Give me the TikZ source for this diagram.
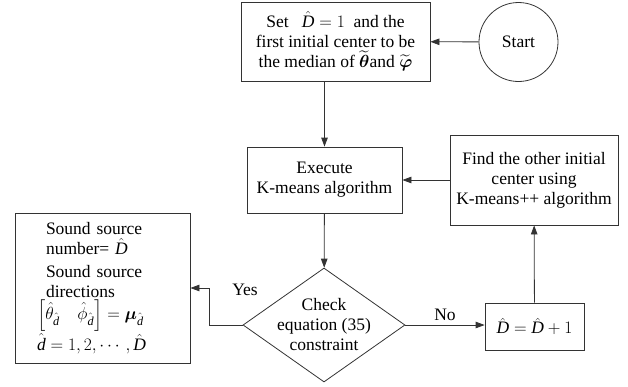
\documentclass[tikz,border=0pt]{standalone}
\usepackage{fix-cm}
\usepackage{amsmath,amssymb}
\usepackage{fontspec}
\setmainfont{Liberation Serif}
\usetikzlibrary{arrows.meta,shapes.geometric}

\tikzset{
 box/.style={draw=black!80, line width=0.8pt, rectangle, inner sep=0pt, align=center},
 arr/.style={draw=black!80, line width=0.8pt, -{Triangle[length=9pt,width=6.5pt]}},
}
\newcommand{\hD}{\hat{\mathit{D}}}
\newcommand{\hd}{\hat{\mathit{d}}}

\begin{document}
\begin{tikzpicture}[x=1pt, y=-1pt, font=\fontsize{17.5}{20}\selectfont]
 \useasboundingbox (0,0) rectangle (628,386); % 628x386

 \node [box, minimum width=189, minimum height=79] (set) at (335.5,41.5)
   {Set \ \ $\hD=1$ \ and the\\ first initial center to be\\
    the median of $\widetilde{\boldsymbol{\theta}}$and $\widetilde{\boldsymbol{\varphi}}$}; % 初期化
 \node [draw=black!80, line width=0.8pt, circle, minimum size=79, inner sep=0pt] (start) at (518.5,42) {Start};

 \node [box, minimum width=155, minimum height=66] (exec) at (324.5,180) {Execute\\ K-means algorithm};
 \node [box, minimum width=168, minimum height=90] (find) at (534,180)
   {Find the other initial\\ center using\\ K-means++ algorithm};

 \node [draw=black!80, line width=0.8pt, diamond, minimum width=162, minimum height=114, inner sep=0pt] (chk) at (324,325) {};
 \node [align=center] (chktext) at (chk) {Check\\ equation (35)\\ constraint}; % 判定
 \node [box, minimum width=99, minimum height=47] (inc) at (534.5,326.5) {$\hD=\hD+1$};

 \node [box, align=left, text width=131, inner xsep=22, minimum height=150] (out) at (102.5,288)
   {\hspace*{9pt}Sound source\\
    \hspace*{9pt}number= $\hD$\\[3pt]
    \hspace*{9pt}Sound source\\
    \hspace*{9pt}directions\\[1pt]
    $\left[\hat{\theta}_{\hd}\quad \hat{\phi}_{\hd}\right]= \boldsymbol{\mu}_{\hd}$\\[2pt]
    $\hd=1,2,\cdots,\hD$}; % 出力

 \draw [arr] (start) -- (set);
 \draw [arr] (exec.north |- set.south) -- (exec.north);
 \draw [arr] (find) -- (exec);
 \draw [arr] (exec) -- (chk);
 \draw [arr] (chk.east) -- (chk.east -| inc.west);
 \draw [arr] (inc) -- (find);
 \draw [arr] (chk.west) -- ++(-33,0) |- (out.east);

 \node at (245,290) {Yes};
 \node at (445,315) {No};
\end{tikzpicture}
\end{document}
